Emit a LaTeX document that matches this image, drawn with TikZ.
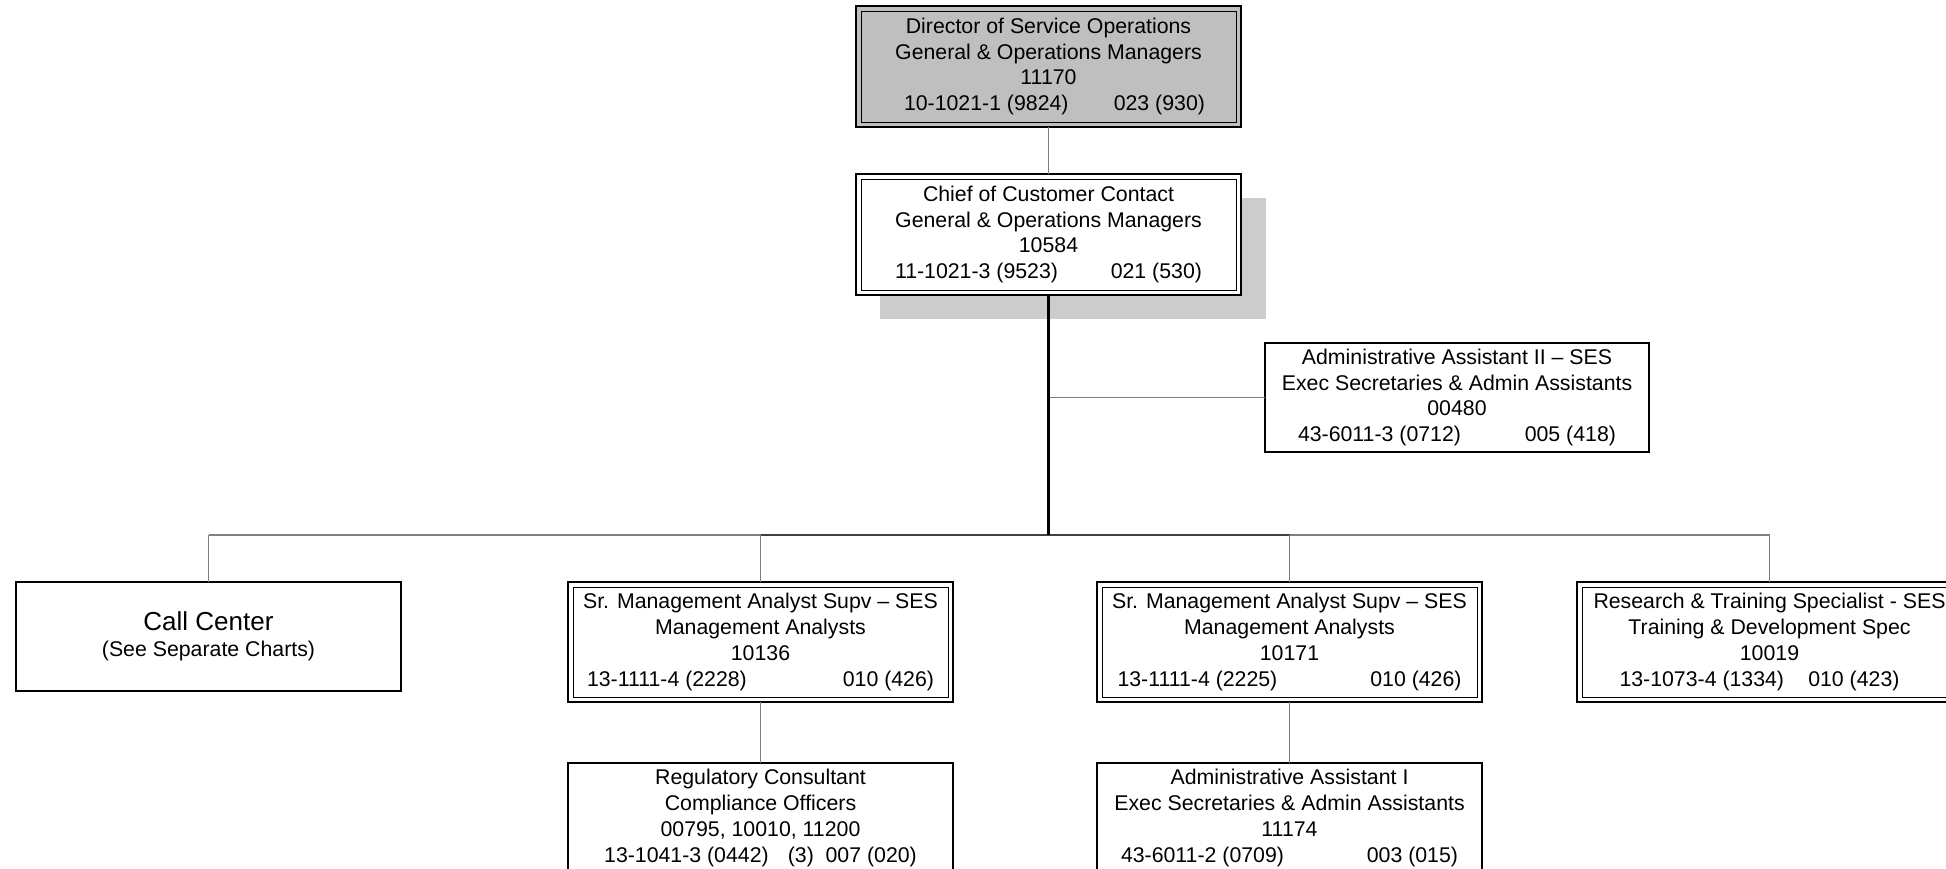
\documentclass[tikz,border=0pt]{standalone}
\usepackage{fontspec}
\setmainfont{Liberation Sans}
% last line of a box: code on the left, grade on the right
\newcommand\pairline[3]{\makebox[#1]{#2\hfill #3}}
\begin{document}
\begin{tikzpicture}[x=1pt,y=-1pt,
  box/.style={draw, line width=2pt, fill=white, outer sep=0pt, inner sep=0pt,
    minimum width=385pt, minimum height=120pt, align=center,
    font=\fontsize{21.3}{25.8}\selectfont},
  dbox/.style={box, path picture={
    \draw[line width=1pt]
      ([shift={(5pt,-5pt)}]path picture bounding box.north west) rectangle
      ([shift={(-5pt,5pt)}]path picture bounding box.south east);}},
  link/.style={draw=gray, line width=1.6pt},
  trunk/.style={draw=black, line width=2.4pt},
  bar/.style={draw=black!75, line width=1.8pt}
]
\useasboundingbox (0,0) rectangle (1946,868);
\clip (0,0) rectangle (1946,868);

% top of the chart
\node[dbox, fill=gray!50, minimum height=121pt] (dir) at (1048.5,66.5)
  {Director of Service Operations\\General \& Operations Managers\\11170\\
   \hspace*{12pt}\pairline{301pt}{10-1021-1 (9824)}{023 (930)}};

\fill[gray!40] (880,198) rectangle (1266,319);
\node[dbox, minimum height=121pt] (chief) at (1048.5,234.5)
  {Chief of Customer Contact\\General \& Operations Managers\\10584\\
   \pairline{307pt}{11-1021-3 (9523)}{021 (530)}};

\node[box, minimum width=384pt, minimum height=109pt] (adm2) at (1457,397.5)
  {Administrative Assistant II – SES\\Exec Secretaries \& Admin Assistants\\00480\\
   \pairline{318pt}{43-6011-3 (0712)}{005 (418)}};

% second level
\node[box, minimum height=109pt] (call) at (208.5,636.5)
  {{\fontsize{26}{30}\selectfont Call Center}\\(See Separate Charts)};

\node[dbox] (sr1) at (760.5,642)
  {Sr. Management Analyst Supv – SES\\Management Analysts\\10136\\
   \pairline{347pt}{13-1111-4 (2228)}{010 (426)}};

\node[dbox] (sr2) at (1289.5,642)
  {Sr. Management Analyst Supv – SES\\Management Analysts\\10171\\
   \pairline{344pt}{13-1111-4 (2225)}{010 (426)}};

\node[dbox] (res) at (1769.5,642)
  {Research \& Training Specialist - SES\\Training \& Development Spec\\10019\\
   \pairline{280pt}{13-1073-4 (1334)}{010 (423)}\hspace*{20pt}};

% third level
\node[box, minimum height=110pt] (reg) at (760.5,818)
  {Regulatory Consultant\\Compliance Officers\\00795, 10010, 11200\\
   13-1041-3 (0442)\hspace{0.9em}(3)\hspace{0.55em}007 (020)};

\node[box, minimum height=110pt] (adm1) at (1289.5,818)
  {Administrative Assistant I\\Exec Secretaries \& Admin Assistants\\11174\\
   \pairline{337pt}{43-6011-2 (0709)}{003 (015)}};

% connectors
\coordinate (hub) at (1048.5,535);
\coordinate (aside) at (1048.5,397.5);
\coordinate (c1) at (call.north |- hub);
\coordinate (c2) at (sr1.north |- hub);
\coordinate (c3) at (sr2.north |- hub);
\coordinate (c4) at (res.north |- hub);

\path[link] (dir.south) -- (chief.north);
\path[link] (aside) -- (adm2.west);
\path[link] (c1) -- (c2);
\path[link] (c3) -- (c4);
\path[bar] (c2) -- (c3);
\path[trunk] (chief.south) -- (hub);
\path[link] (c1) -- (call.north);
\path[link] (c2) -- (sr1.north);
\path[link] (c3) -- (sr2.north);
\path[link] (c4) -- (res.north);
\path[link] (sr1.south) -- (reg.north);
\path[link] (sr2.south) -- (adm1.north);
\end{tikzpicture}
\end{document}
